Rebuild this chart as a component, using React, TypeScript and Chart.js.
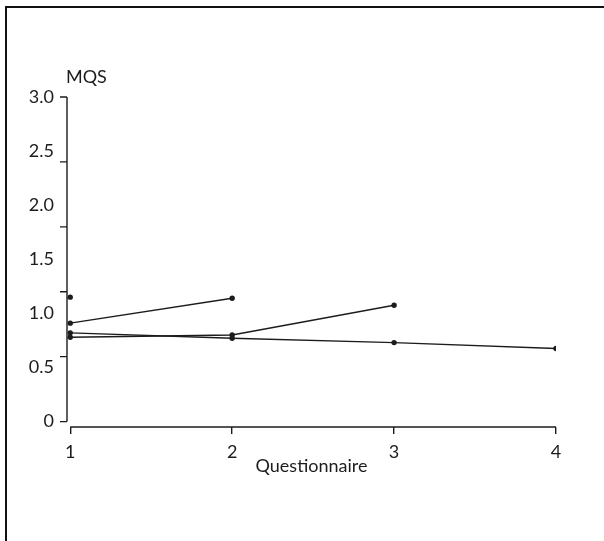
import React, { useEffect, useRef } from "react";
import { Chart, registerables } from "chart.js";

Chart.register(...registerables);

const X_TICKS = [1, 2, 3, 4];
const Y_TICKS = [0, 0.5, 1, 1.5, 2, 2.5, 3];
// the printed figure places its y tick marks on a different spacing than its labels
const Y_TICK_MARKS = [0, 0.6, 1.2, 1.8, 2.4, 3.0];

const SERIES_A_X = [1];
const SERIES_A_Y = [1.15];
const SERIES_B_X = [1, 2];
const SERIES_B_Y = [0.91, 1.14];
const SERIES_C_X = [1, 2, 3, 4];
const SERIES_C_Y = [0.82, 0.77, 0.73, 0.675];
const SERIES_D_X = [1, 2, 3];
const SERIES_D_Y = [0.78, 0.8, 1.075];

const X_TITLE = "Questionnaire";
const Y_TITLE = "MQS";

const INK = "#1c1c1c";

function pts(xs: number[], ys: number[]) {
  return xs.map((x, i) => ({ x, y: ys[i] }));
}

export default function App() {
  const ref = useRef<HTMLCanvasElement | null>(null);

  useEffect(() => {
    if (!ref.current) return;
    Chart.defaults.font.family = "Lato, 'DejaVu Sans', sans-serif";

    const axisPlugin = {
      id: "axisLines",
      afterDraw(chart: any) {
        const { ctx, chartArea, scales } = chart;
        const xs = scales.x;
        const ys = scales.y;
        ctx.save();
        ctx.strokeStyle = INK;
        ctx.lineWidth = 1.4;
        ctx.beginPath();
        ctx.moveTo(chartArea.left, ys.getPixelForValue(Y_TICK_MARKS[0]));
        ctx.lineTo(chartArea.left, ys.getPixelForValue(Y_TICK_MARKS[Y_TICK_MARKS.length - 1]));
        Y_TICK_MARKS.forEach((v) => {
          const py = ys.getPixelForValue(v);
          ctx.moveTo(chartArea.left - 7, py);
          ctx.lineTo(chartArea.left, py);
        });
        ctx.moveTo(xs.getPixelForValue(X_TICKS[0]), chartArea.bottom);
        ctx.lineTo(xs.getPixelForValue(X_TICKS[X_TICKS.length - 1]), chartArea.bottom);
        ctx.stroke();
        ctx.fillStyle = INK;
        ctx.font = "18px Lato, 'DejaVu Sans', sans-serif";
        ctx.textAlign = "left";
        ctx.textBaseline = "middle";
        ctx.fillText(Y_TITLE, chartArea.left - 1, chartArea.top - 20);
        ctx.restore();
      },
    };

    const ds = (xs: number[], ys: number[]) => ({
      data: pts(xs, ys),
      borderColor: INK,
      backgroundColor: INK,
      borderWidth: 1.4,
      pointRadius: 2.7,
      pointBorderWidth: 0,
      pointBackgroundColor: INK,
      fill: false,
      tension: 0,
    });

    const chart = new Chart(ref.current, {
      type: "line",
      data: {
        datasets: [
          ds(SERIES_A_X, SERIES_A_Y),
          ds(SERIES_B_X, SERIES_B_Y),
          ds(SERIES_C_X, SERIES_C_Y),
          ds(SERIES_D_X, SERIES_D_Y),
        ],
      },
      options: {
        animation: false,
        responsive: false,
        layout: { padding: { top: 97, right: 48, left: 0, bottom: 0 } },
        plugins: { legend: { display: false }, tooltip: { enabled: false } },
        scales: {
          x: {
            type: "linear",
            min: 0.98,
            max: 4,
            afterBuildTicks: (s: any) => {
              s.ticks = X_TICKS.map((v) => ({ value: v }));
            },
            afterFit: (s: any) => {
              s.height = 114;
            },
            border: { display: false },
            grid: {
              drawOnChartArea: false,
              drawTicks: true,
              tickLength: 7,
              color: INK,
              lineWidth: 1.4,
            },
            ticks: {
              color: INK,
              font: { size: 18 },
              padding: 7,
              maxRotation: 0,
              callback: (v: any) => String(v),
            },
            title: {
              display: true,
              text: X_TITLE,
              color: INK,
              font: { size: 18 },
              padding: { top: 0, bottom: 64 },
            },
          },
          y: {
            type: "linear",
            min: -0.05,
            max: 3,
            afterBuildTicks: (s: any) => {
              s.ticks = Y_TICKS.map((v) => ({ value: v }));
            },
            afterFit: (s: any) => {
              s.width = 67;
            },
            border: { display: false },
            grid: {
              drawOnChartArea: false,
              drawTicks: false,
            },
            ticks: {
              color: INK,
              font: { size: 18 },
              padding: 13,
              callback: (v: any) => (Number(v) === 0 ? "0" : Number(v).toFixed(1)),
            },
          },
        },
      },
      plugins: [axisPlugin],
    } as any);

    return () => chart.destroy();
  }, []);

  return (
    <div
      style={{
        position: "fixed",
        left: 0,
        top: 0,
        width: 604,
        height: 541,
        background: "#fff",
        overflow: "hidden",
      }}
    >
      <canvas ref={ref} width={604} height={541} style={{ position: "absolute", left: 0, top: 0 }} />
      <div
        style={{
          position: "absolute",
          left: 5,
          top: 6,
          width: 700,
          height: 700,
          borderTop: "2px solid #111",
          borderLeft: "2px solid #111",
          boxSizing: "border-box",
          pointerEvents: "none",
        }}
      />
    </div>
  );
}
